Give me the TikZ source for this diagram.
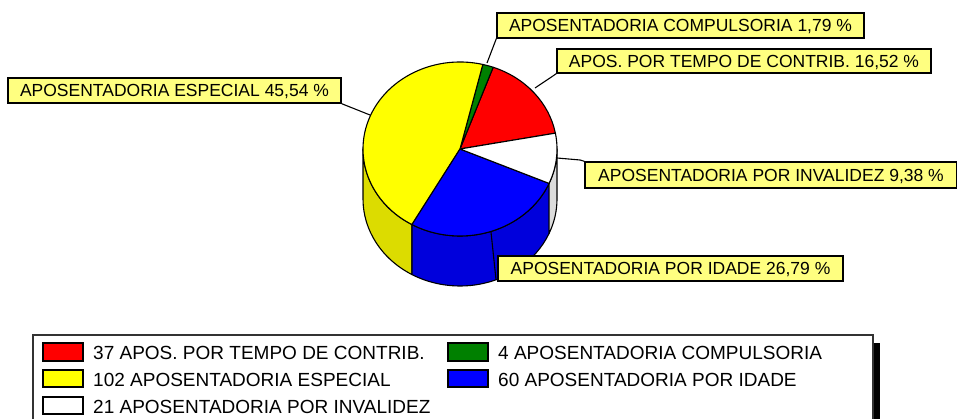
\documentclass[tikz,border=0pt]{standalone}
\usepackage{fontspec}
\setmainfont{Liberation Sans}
\usetikzlibrary{calc}
\definecolor{pred}{RGB}{255,0,0}
\definecolor{pgreen}{RGB}{0,128,0}
\definecolor{pyellow}{RGB}{255,255,0}
\definecolor{pblue}{RGB}{0,0,255}
\definecolor{syellow}{RGB}{220,220,0}
\definecolor{sblue}{RGB}{0,0,220}
\definecolor{swhite}{RGB}{220,220,220}
\definecolor{lblfill}{RGB}{255,255,128}
\begin{document}
\begin{tikzpicture}[x=1pt,y=-1pt,
 slice/.style={draw=black,line width=1.1pt,line join=round},
 lbl/.style={draw=black,line width=1.4pt,fill=lblfill,font=\fontsize{17.5}{20}\selectfont,text height=12.5pt,text depth=0pt,inner sep=0pt,anchor=center},
 leader/.style={draw=black,line width=1.1pt},
 swatch/.style={draw=black,line width=1.3pt},
 legtxt/.style={anchor=base west,inner sep=0pt,font=\fontsize{19}{22}\selectfont}]
\useasboundingbox (0,0) rectangle (957,419);
\clip (0,0) rectangle (957,419);
\coordinate (C) at (460,149);
\coordinate (B) at (460,199);
% sides
\filldraw[slice,fill=syellow] ($(C)+(-180:97 and 87)$) arc[start angle=-180,end angle=-240.3,x radius=97,y radius=87] -- ($(B)+(-240.3:97 and 87)$) arc[start angle=-240.3,end angle=-180,x radius=97,y radius=87] -- cycle;
\filldraw[slice,fill=sblue] ($(C)+(-240.3:97 and 87)$) arc[start angle=-240.3,end angle=-336.7,x radius=97,y radius=87] -- ($(B)+(-336.7:97 and 87)$) arc[start angle=-336.7,end angle=-240.3,x radius=97,y radius=87] -- cycle;
\filldraw[slice,fill=swhite] ($(C)+(-336.7:97 and 87)$) arc[start angle=-336.7,end angle=-360,x radius=97,y radius=87] -- ($(B)+(-360:97 and 87)$) arc[start angle=-360,end angle=-336.7,x radius=97,y radius=87] -- cycle;
\draw[slice] ($(C)+(-288.6:97 and 87)$) -- ($(B)+(-291.8:97 and 87)$);
% top
\filldraw[slice,fill=pred] (C) -- ($(C)+(-10.5:97 and 87)$) arc[start angle=-10.5,end angle=-70,x radius=97,y radius=87] -- cycle;
\filldraw[slice,fill=pgreen] (C) -- ($(C)+(-70:97 and 87)$) arc[start angle=-70,end angle=-76.4,x radius=97,y radius=87] -- cycle;
\filldraw[slice,fill=pyellow] (C) -- ($(C)+(-76.4:97 and 87)$) arc[start angle=-76.4,end angle=-240.3,x radius=97,y radius=87] -- cycle;
\filldraw[slice,fill=pblue] (C) -- ($(C)+(-240.3:97 and 87)$) arc[start angle=-240.3,end angle=-336.7,x radius=97,y radius=87] -- cycle;
\filldraw[slice,fill=white] (C) -- ($(C)+(-336.7:97 and 87)$) arc[start angle=-336.7,end angle=-370.5,x radius=97,y radius=87] -- cycle;
% labels
\node[lbl,minimum width=367pt,minimum height=25pt] (lcomp) at (680.5,25.5) {APOSENTADORIA COMPULSORIA 1,79 \%};
\node[lbl,minimum width=374pt,minimum height=24pt] (ltemp) at (744,61) {APOS. POR TEMPO DE CONTRIB. 16,52 \%};
\node[lbl,minimum width=333pt,minimum height=25pt] (lesp) at (174.5,90.5) {APOSENTADORIA ESPECIAL 45,54 \%};
\node[lbl,minimum width=372pt,minimum height=26pt] (linv) at (771,175) {APOSENTADORIA POR INVALIDEZ 9,38 \%};
\node[lbl,minimum width=345pt,minimum height=25pt] (lida) at (670.5,268.5) {APOSENTADORIA POR IDADE 26,79 \%};
% leaders
\coordinate (pcomp) at (487,63);
\coordinate (ptemp) at (535,88);
\coordinate (pesp) at (370,115);
\coordinate (pinv) at (557,158);
\coordinate (kinv) at (580,160);
\draw[leader] (lcomp.south west) -- (pcomp);
\draw[leader] (ltemp.south west) -- (ptemp);
\draw[leader] (lesp.south east) -- (pesp);
\draw[leader] (pinv) -- (kinv) -- (linv.north west);
% legend
\draw[black!80,line width=1.6pt,fill=white] (33,335) rectangle (873,440);
\fill[black] (873.8,343) rectangle (879.5,440);
\filldraw[swatch,fill=pred] (43,343) rectangle (83,361);
\filldraw[swatch,fill=pyellow] (43,370) rectangle (83,387);
\filldraw[swatch,fill=white] (43,397) rectangle (83,414);
\filldraw[swatch,fill=pgreen] (448,343) rectangle (488,361);
\filldraw[swatch,fill=pblue] (448,370) rectangle (488,387);
\node[legtxt] (t1) at (93,359) {37 APOS. POR TEMPO DE CONTRIB.};
\node[legtxt] (t2) at (93,386.5) {102 APOSENTADORIA ESPECIAL};
\node[legtxt] (t3) at (93,413) {21 APOSENTADORIA POR INVALIDEZ};
\node[legtxt] (t4) at (498,359) {4 APOSENTADORIA COMPULSORIA};
\node[legtxt] (t5) at (498,386.5) {60 APOSENTADORIA POR IDADE};
\end{tikzpicture}
\end{document}
